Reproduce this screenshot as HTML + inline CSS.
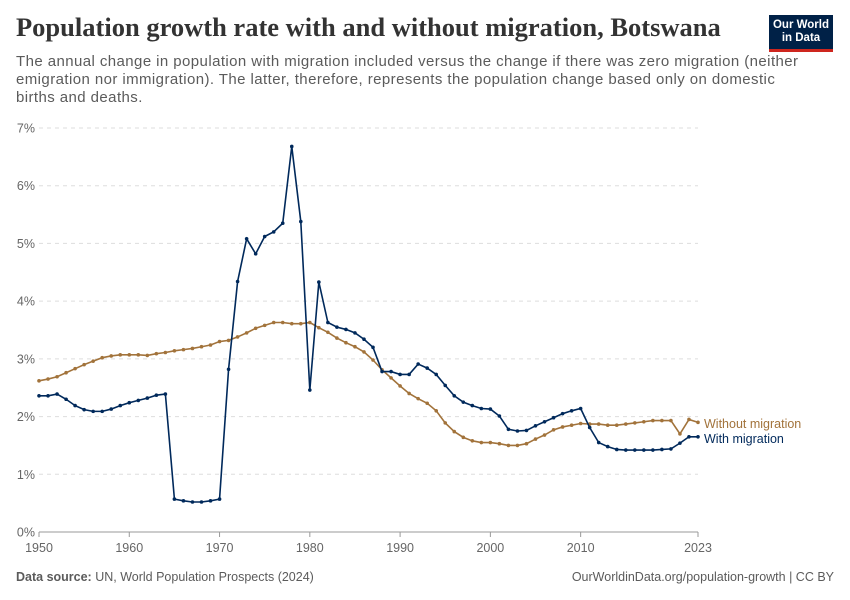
<!DOCTYPE html>
<html><head><meta charset="utf-8">
<style>
body{margin:0;background:#fff;font-family:"Liberation Sans",sans-serif;}
#wrap{position:relative;width:850px;height:600px;overflow:hidden;}
h1{position:absolute;left:16px;top:12px;margin:0;font-family:"Liberation Serif",serif;font-size:26.5px;font-weight:bold;color:#333;white-space:nowrap;}
.sub{position:absolute;left:16px;top:53px;font-size:15px;letter-spacing:0.42px;line-height:18px;color:#5b5b5b;white-space:nowrap;}
.logo{position:absolute;left:769px;top:15px;width:64px;height:37px;background:#002147;color:#fff;font-size:11.5px;font-weight:bold;text-align:center;line-height:13px;padding-top:4px;box-sizing:border-box;border-bottom:3px solid #ce261e;}
.foot{position:absolute;top:570px;font-size:12.5px;color:#5b5b5b;}
</style></head><body>
<div id="wrap">
<h1>Population growth rate with and without migration, Botswana</h1>
<div class="sub">The annual change in population with migration included versus the change if there was zero migration (neither<br>emigration nor immigration). The latter, therefore, represents the population change based only on domestic<br>births and deaths.</div>
<div class="logo">Our World<br>in Data</div>
<div class="foot" style="left:16px"><b>Data source:</b> UN, World Population Prospects (2024)</div>
<div class="foot" style="right:16px">OurWorldinData.org/population-growth | CC BY</div>
<svg id="chart" width="850" height="600" style="position:absolute;left:0;top:0"></svg>
</div>
<script>
const years=[];for(let y=1950;y<=2023;y++)years.push(y);
const withMigration=[2.36,2.36,2.39,2.30,2.19,2.12,2.09,2.09,2.13,2.19,2.24,2.28,2.32,2.37,2.39,0.57,0.54,0.52,0.52,0.54,0.57,2.82,4.34,5.08,4.82,5.12,5.20,5.35,6.68,5.38,2.46,4.33,3.63,3.55,3.51,3.45,3.34,3.20,2.78,2.78,2.73,2.73,2.91,2.84,2.73,2.54,2.36,2.25,2.19,2.14,2.13,2.01,1.78,1.75,1.76,1.84,1.91,1.98,2.05,2.10,2.14,1.81,1.55,1.48,1.43,1.42,1.42,1.42,1.42,1.43,1.44,1.54,1.65,1.65];
const withoutMigration=[2.62,2.65,2.69,2.76,2.83,2.90,2.96,3.02,3.05,3.07,3.07,3.07,3.06,3.09,3.11,3.14,3.16,3.18,3.21,3.24,3.30,3.32,3.38,3.45,3.53,3.58,3.63,3.63,3.61,3.61,3.63,3.54,3.46,3.36,3.28,3.21,3.12,2.98,2.81,2.67,2.53,2.40,2.31,2.23,2.10,1.89,1.74,1.64,1.58,1.55,1.55,1.53,1.50,1.50,1.53,1.61,1.68,1.77,1.82,1.85,1.88,1.87,1.87,1.85,1.85,1.87,1.89,1.91,1.93,1.93,1.93,1.70,1.95,1.90];
const yTicks=[0,1,2,3,4,5,6,7];
const xTicks=[1950,1960,1970,1980,1990,2000,2010,2023];
const NS="http://www.w3.org/2000/svg";
const svg=document.getElementById('chart');
const X0=39,X1=698,Y0=532,Y1=128;
const xs=y=>X0+(y-1950)/(2023-1950)*(X1-X0);
const ys=v=>Y0-v/7*(Y0-Y1);
function mk(t,a){const e=document.createElementNS(NS,t);for(const k in a)e.setAttribute(k,a[k]);svg.appendChild(e);return e;}
yTicks.forEach(v=>{
  const g=mk('line',{x1:X0,x2:X1,y1:ys(v),y2:ys(v),stroke:v===0?'#999':'#ddd','stroke-dasharray':v===0?'':'4,4'});
  
  
  const t=mk('text',{x:35,y:ys(v)+4.5,'text-anchor':'end','font-size':'12.5',fill:'#666','font-family':'Liberation Sans, sans-serif'});
  t.textContent=v+'%';
  
  
});
xTicks.forEach(y=>{
  const l=mk('line',{x1:xs(y),x2:xs(y),y1:Y0,y2:Y0+5,stroke:'#999'});
  
  
  const t=mk('text',{x:xs(y),y:Y0+20,'text-anchor':'middle','font-size':'12.5',fill:'#666','font-family':'Liberation Sans, sans-serif'});
  t.textContent=y;
  
  
});
function series(vals,color,name){
  const p=mk('polyline',{points:vals.map((v,i)=>xs(years[i])+','+ys(v)).join(' '),fill:'none',stroke:color,'stroke-width':1.6});
  
  
  vals.forEach((v,i)=>{
    const c=mk('circle',{cx:xs(years[i]),cy:ys(v),r:1.8,fill:color});
    
    
  });
}
series(withoutMigration,'#a2733b','without-migration');
series(withMigration,'#00295b','with-migration');
const l1=mk('text',{x:704,y:428,'font-size':'12.5',fill:'#a2733b','font-family':'Liberation Sans, sans-serif'});
l1.textContent='Without migration';


const l2=mk('text',{x:704,y:443,'font-size':'12.5',fill:'#00295b','font-family':'Liberation Sans, sans-serif'});
l2.textContent='With migration';


</script>
</body></html>
